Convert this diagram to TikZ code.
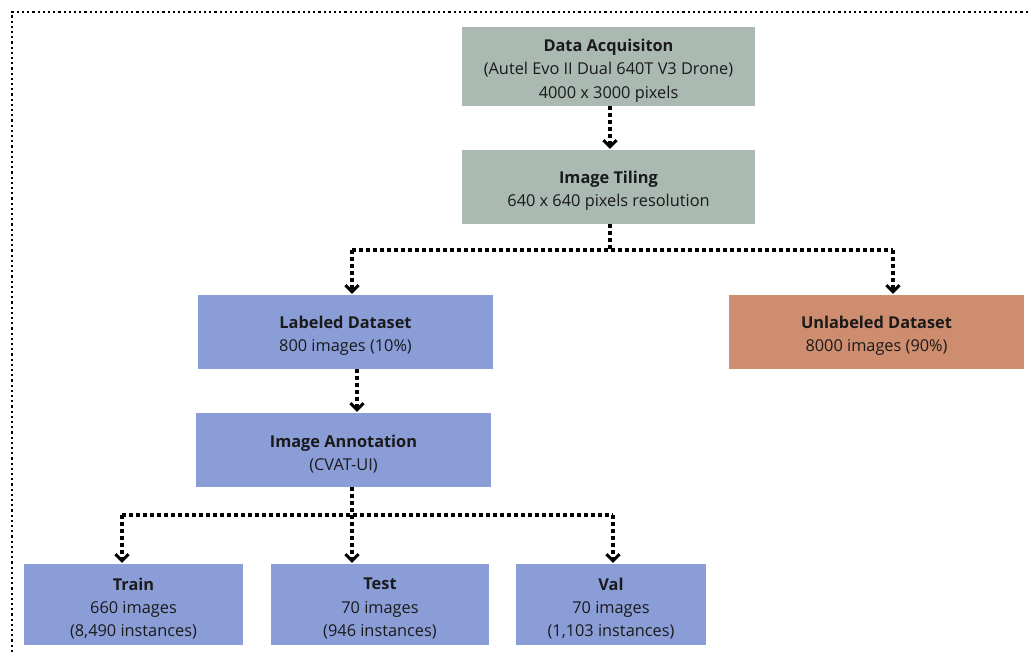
\documentclass[tikz,border=0pt]{standalone}
\usepackage{fontspec}
\setmainfont{Open Sans}
\usetikzlibrary{arrows.meta}
\definecolor{graybox}{HTML}{AAB9B1}
\definecolor{bluebox}{HTML}{8B9DD7}
\definecolor{orangebox}{HTML}{CE8D6F}
\definecolor{txt}{HTML}{1A1A1A}
\tikzset{
  box/.style={draw=none, inner sep=0pt},
  txtlbl/.style={align=center, text=txt, font=\fontsize{16.4}{23.5}\selectfont, inner sep=0pt, yshift=-4bp},
  conn/.style={line width=3.5bp, dash pattern=on 3.5bp off 3.5bp, black},
  arr/.style={conn, -{Straight Barb[length=6.5bp,width=13bp,line width=3bp]}, shorten >=1bp},
  frame/.style={line width=2.2bp, dash pattern=on 2.2bp off 3bp, black}
}
\begin{document}
\begin{tikzpicture}[x=1bp,y=-1bp]
\useasboundingbox (0,0) rectangle (1028,652);
\draw[frame] (12,652) -- (12,12) -- (1028,12);
\node[box, fill=graybox, minimum width=293bp, minimum height=79bp, label={[txtlbl]center:{\textbf{Data Acquisiton}\\(Autel Evo II Dual 640T V3 Drone)\\4000 x 3000 pixels}}] (da) at (608.5,66.5) {};
\node[box, fill=graybox, minimum width=293bp, minimum height=74bp, label={[txtlbl]center:{\textbf{Image Tiling}\\640 x 640 pixels resolution}}] (it) at (608.5,187) {};
\node[box, fill=bluebox, minimum width=295bp, minimum height=74bp, label={[txtlbl]center:{\textbf{Labeled Dataset}\\800 images (10\%)}}] (ld) at (345.5,332) {};
\node[box, fill=orangebox, minimum width=295bp, minimum height=74bp, label={[txtlbl]center:{\textbf{Unlabeled Dataset}\\8000 images (90\%)}}] (ud) at (876.5,332) {};
\node[box, fill=bluebox, minimum width=295bp, minimum height=74bp, label={[txtlbl]center:{\textbf{Image Annotation}\\(CVAT-UI)}}] (ia) at (343.5,450) {};
\node[box, fill=bluebox, minimum width=219bp, minimum height=81bp, label={[txtlbl]center:{\textbf{Train}\\660 images\\(8,490 instances)}}] (tr) at (133.5,604.5) {};
\node[box, fill=bluebox, minimum width=218bp, minimum height=81bp, label={[txtlbl]center:{\textbf{Test}\\70 images\\(946 instances)}}] (te) at (380,604.5) {};
\node[box, fill=bluebox, minimum width=190bp, minimum height=81bp, label={[txtlbl]center:{\textbf{Val}\\70 images\\(1,103 instances)}}] (va) at (611,604.5) {};
\coordinate (s1) at (610,250);
\coordinate (s2) at (352,515);
\draw[arr] (da.south -| s1) -- (it.north -| s1);
\draw[conn] (it.south -| s1) -- (s1);
\draw[conn] (352,250) -- (893,250);
\draw[arr] (352,250) -- (ld.north -| 352,0);
\draw[arr] (893,250) -- (ud.north -| 893,0);
\draw[arr] (ld.south -| 357,0) -- (ia.north -| 357,0);
\draw[conn] (ia.south -| s2) -- (s2);
\draw[conn] (122,515) -- (613,515);
\draw[arr] (122,515) -- (tr.north -| 122,0);
\draw[arr] (s2) -- (te.north -| s2);
\draw[arr] (613,515) -- (va.north -| 613,0);
\end{tikzpicture}
\end{document}
